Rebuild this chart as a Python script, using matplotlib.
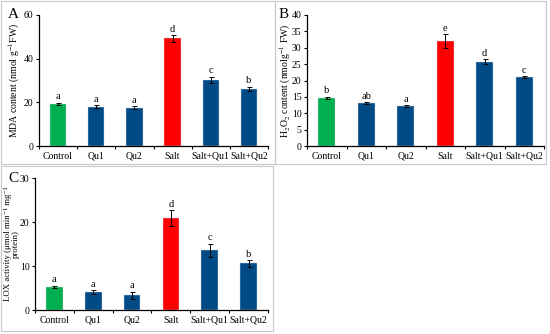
import matplotlib.pyplot as plt
from matplotlib.patches import Rectangle

plt.rcParams['font.family'] = ['Liberation Serif', 'DejaVu Serif']
plt.rcParams['mathtext.fontset'] = 'stix'

groups = ["Control", "Qu1", "Qu2", "Salt", "Salt+Qu1", "Salt+Qu2"]
colors = ["#00b050", "#004a86", "#004a86", "#ff0000", "#004a86", "#004a86"]

mda = [19.2, 17.9, 17.6, 49.3, 30.3, 26.3]
mda_err = [0.6, 0.7, 0.7, 1.5, 1.5, 0.9]
mda_sig = ["a", "a", "a", "d", "c", "b"]

h2o2 = [14.8, 13.1, 12.2, 32.0, 25.8, 21.0]
h2o2_err = [0.3, 0.2, 0.3, 2.1, 0.7, 0.3]
h2o2_sig = ["b", "ab", "a", "e", "d", "c"]

lox = [5.3, 4.1, 3.4, 20.9, 13.6, 10.6]
lox_err = [0.2, 0.4, 0.8, 1.8, 1.5, 0.8]
lox_sig = ["a", "a", "a", "d", "c", "b"]

fig = plt.figure(figsize=(5.5, 3.34), dpi=100)

# panel boxes
for x0, y0, x1, y1 in [(1, 1, 275, 164), (275, 1, 546, 164), (1, 166, 273, 331)]:
    fig.patches.append(Rectangle((x0 / 550, 1 - y1 / 334), (x1 - x0) / 550, (y1 - y0) / 334,
                                 transform=fig.transFigure, fill=False,
                                 edgecolor="#c8c8c8", linewidth=0.8))


def panel(rect, vals, errs, sig, ymax, step, ylabel, letter, lx, ly, off, labx, labsize):
    ax = fig.add_axes(rect)
    x = range(len(groups))
    ax.bar(x, vals, width=0.43, color=colors, edgecolor="#d0d8e0", linewidth=0.3,
           yerr=errs, error_kw=dict(ecolor="black", elinewidth=0.7, capsize=1.8, capthick=0.7))
    for i, v in enumerate(vals):
        ax.text(i, v + errs[i] + off, sig[i], ha="center", va="bottom", fontsize=7.5)
    ax.set_xlim(-0.5, len(groups) - 0.5)
    ax.set_ylim(0, ymax)
    ax.set_yticks(range(0, ymax + 1, step))
    ax.set_xticks([i - 0.5 for i in range(len(groups) + 1)])
    ax.set_xticklabels([])
    ax.set_xticks(list(x), minor=True)
    ax.set_xticklabels(groups, minor=True)
    ax.tick_params(axis="x", which="minor", length=0, labelsize=7, pad=4)
    ax.tick_params(axis="x", which="major", length=2.5, width=0.8, direction="out")
    ax.tick_params(axis="y", length=2.5, width=0.8, labelsize=7, pad=1.5, direction="out")
    ax.spines["top"].set_visible(False)
    ax.spines["right"].set_visible(False)
    ax.spines["left"].set_linewidth(0.9)
    ax.spines["bottom"].set_linewidth(0.9)
    ax.set_ylabel(ylabel, fontsize=labsize, linespacing=1.0)
    ax.yaxis.set_label_coords(labx, 0.5)
    ax.yaxis.label.set_verticalalignment("center")
    fig.text(lx / 550, 1 - ly / 334, letter, fontsize=11, ha="left", va="center")
    return ax


panel([39 / 550, 1 - 146 / 334, 229 / 550, 131 / 334], mda, mda_err, mda_sig, 60, 20,
      r"MDA content (nmol g$^{-1}$FW)", "A", 8, 14, 0.6, -0.107, 7)
panel([307 / 550, 1 - 146 / 334, 237 / 550, 131 / 334], h2o2, h2o2_err, h2o2_sig, 40, 5,
      r"H$_2$O$_2$ content (nmolg$^{-1}$ FW)", "B", 279, 14, 0.4, -0.093, 7)
panel([35 / 550, 1 - 310 / 334, 233 / 550, 132 / 334], lox, lox_err, lox_sig, 30, 10,
      "LOX activity (\u03bcmol min\u207b\u00b9 mg\u207b\u00b9\nprotein)", "C", 8, 178, 0.3, -0.1, 6.3)

fig.savefig("out.png", dpi=100)
